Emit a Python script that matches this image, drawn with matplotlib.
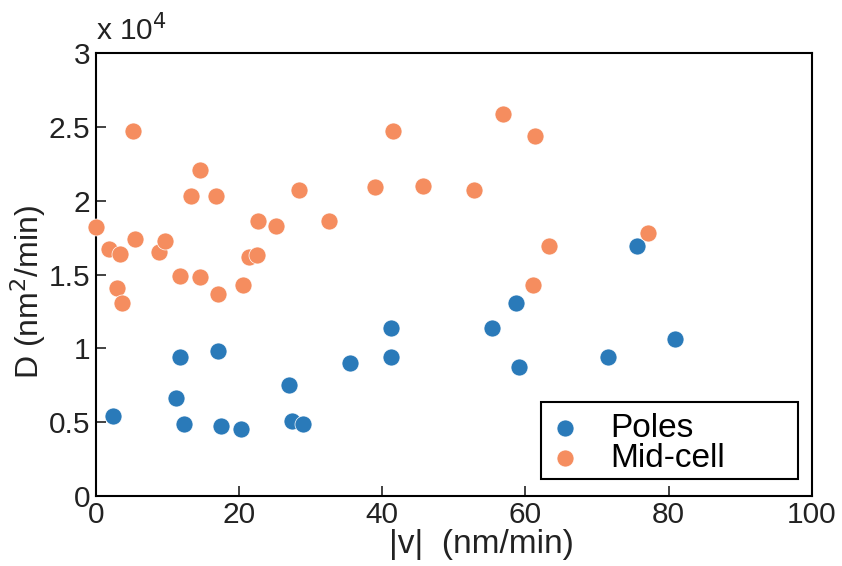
import numpy as np
import matplotlib.pyplot as plt
from matplotlib.patches import Rectangle

plt.rcParams.update({
    "font.family": "Liberation Sans",
    "font.size": 16,
})

# Poles
poles_v = [2.4, 11.2, 11.7, 12.3, 17.1, 17.5, 20.3, 27.0, 27.4, 28.9,
           35.5, 41.2, 41.2, 55.4, 58.7, 59.1, 71.5, 75.6, 80.9]
poles_D = [0.54, 0.66, 0.94, 0.49, 0.98, 0.47, 0.45, 0.75, 0.51, 0.49,
           0.90, 1.14, 0.94, 1.14, 1.31, 0.87, 0.94, 1.69, 1.06]

# Mid-cell
mid_v = [0.0, 1.8, 3.4, 3.0, 3.7, 5.2, 5.5, 8.8, 9.7, 11.8, 13.3, 14.6,
         14.5, 16.8, 17.1, 20.6, 21.4, 22.5, 22.6, 25.2, 28.3, 32.5, 39.0,
         41.5, 45.7, 52.8, 56.8, 61.3, 61.0, 63.3, 77.1]
mid_D = [1.82, 1.67, 1.64, 1.41, 1.31, 2.47, 1.74, 1.65, 1.73, 1.49, 2.03, 2.21,
         1.48, 2.03, 1.37, 1.43, 1.62, 1.63, 1.86, 1.83, 2.07, 1.86, 2.09,
         2.47, 2.10, 2.07, 2.59, 2.44, 1.43, 1.69, 1.78]

fig = plt.figure(figsize=(8.42, 5.66), dpi=100)
ax = fig.add_axes([0.114, 0.124, 0.850, 0.782])

ax.scatter(poles_v, poles_D, s=150, color='#2a7ab9', edgecolors='white',
           linewidths=0.5, label='Poles', clip_on=False, zorder=3)
ax.scatter(mid_v, mid_D, s=150, color='#f58d5f', edgecolors='white',
           linewidths=0.5, label='Mid-cell', clip_on=False, zorder=3)

ax.set_xlim(0, 100)
ax.set_ylim(0, 3)
ax.set_xticks([0, 20, 40, 60, 80, 100])
ax.set_yticks([0, 0.5, 1, 1.5, 2, 2.5, 3])
ax.set_yticklabels(['0', '0.5', '1', '1.5', '2', '2.5', '3'])
ax.tick_params(direction='in', length=7, width=1.2, labelsize=21.5, pad=4,
               colors='#222222', labelcolor='#222222')
for sp in ax.spines.values():
    sp.set_linewidth(1.5)

ax.set_xlabel('|v|  (nm/min)', fontsize=24, color='#222222')
ax.xaxis.set_label_coords(0.539, -0.075)
ax.set_ylabel('D (nm$^2$/min)', fontsize=23, color='#222222')
ax.yaxis.set_label_coords(-0.067, 0.46)
ax.text(0.0, 1.015, r'x 10$^4$', transform=ax.transAxes, fontsize=21.5,
        ha='left', va='bottom', color='#222222')

# legend frame drawn separately so it can be wider than its contents
ax.add_patch(Rectangle((0.6215, 0.038), 0.36, 0.174, transform=ax.transAxes,
                       facecolor='white', edgecolor='black', linewidth=1.5,
                       zorder=4, clip_on=False))
leg = ax.legend(loc='upper left', bbox_to_anchor=(0.628, 0.188), fontsize=24,
                frameon=False, borderpad=0, borderaxespad=0, handlelength=1.2,
                handletextpad=0.75, labelspacing=-0.02, scatterpoints=1)
leg.set_zorder(5)

fig.savefig('out.png', dpi=100)
